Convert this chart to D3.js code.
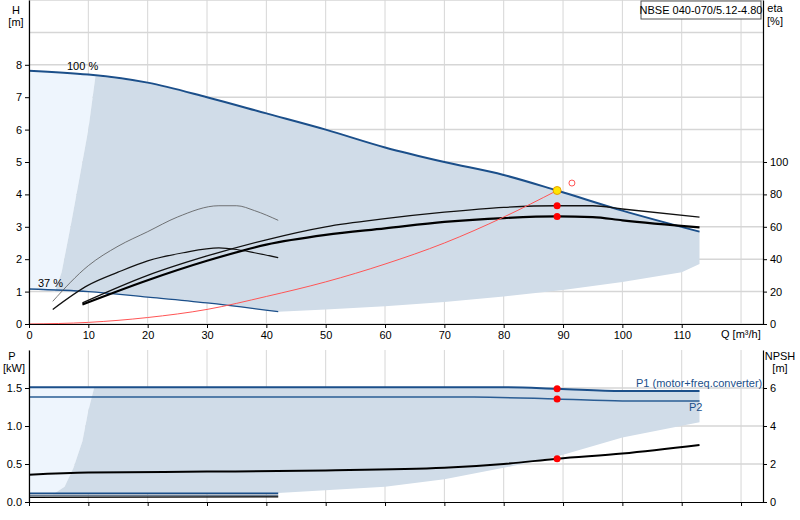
<!DOCTYPE html><html><head><meta charset="utf-8"><script src="https://cdn.jsdelivr.net/npm/d3@7"></script>
<style>body{margin:0;background:#fff}text{font-family:Arial,"Liberation Sans",sans-serif;font-size:11px}</style></head><body><svg id="c" width="800" height="520"></svg><script>
const qTicks=[0,10,20,30,40,50,60,70,80,90,100,110];
const hTicks=[0,1,2,3,4,5,6,7,8];
const etaTicks=[0,20,40,60,80,100];
const pTicks=[0,0.5,1.0,1.5];
const npshTicks=[0,2,4,6];
const h100=[[0,7.82],[10,7.7],[20,7.45],[30,7.0],[40,6.5],[50,6.0],[60,5.45],[70,5.0],[80,4.6],[89,4.12],[100,3.5],[113,2.85]];
const h37=[[0,1.08],[10,1.0],[20,0.83],[30,0.65],[42,0.38]];
const hLower=[[42,0.38],[50,0.45],[60,0.55],[70,0.68],[80,0.85],[90,1.05],[100,1.3],[110,1.6],[113,1.85]];
const hLeft=[[11.2,7.65],[10,6.0],[8.5,4.5],[7,3.0],[5.5,1.6],[4.4,1.0]];
const eta1=[[4,14],[10,36],[15,48],[20,57],[25,66],[32,73],[35,73],[38,70],[42,64]];
const eta2=[[4,9],[10,24],[15,32],[20,39],[26,44],[32,47],[35,46],[38,44],[42,41]];
const eta3=[[9,13],[20,30],[30,42],[40,52],[50,60],[60,65],[70,69],[80,72],[89,73],[95,73],[100,71],[113,66]];
const eta4=[[9,12],[20,27],[30,39],[40,49],[50,55],[60,59],[70,63],[80,65.4],[89,66.4],[95,66],[100,64],[113,59.6]];
const sys=[[0,0],[10,0.05],[20,0.2],[30,0.45],[40,0.85],[50,1.3],[60,1.85],[70,2.5],[80,3.3],[89,4.12]];
const p1=[[0,1.51],[40,1.51],[80,1.51],[89,1.49],[100,1.46],[113,1.46]];
const p2=[[0,1.38],[40,1.38],[75,1.38],[89,1.355],[100,1.33],[113,1.33]];
const npsh=[[0,1.44],[10,1.55],[30,1.6],[50,1.66],[70,1.8],[80,2.0],[89,2.28],[100,2.55],[113,3.0]];
const pLow1=[[0,0.115],[42,0.115]], pLow2=[[0,0.085],[42,0.085]], npshLow=[[0,0.24],[42,0.27]];
const pLower=[[113,1.05],[100,0.85],[89,0.6],[80,0.45],[70,0.3],[60,0.2],[42,0.12]];
const pLeft=[[11,1.51],[10,1.2],[9,0.8],[7.5,0.45],[6,0.2],[4,0.1]];
const duty=89;
const svg=d3.select("#c");
const x=d3.scaleLinear().domain([0,123.7]).range([29,763]);
const yH=d3.scaleLinear().domain([0,10]).range([324,0]);
const yE=d3.scaleLinear().domain([0,200]).range([324,0]);
const yP=d3.scaleLinear().domain([0,2]).range([502,350]);
const yN=d3.scaleLinear().domain([0,8]).range([502,350]);
const grid="#d6d6d6";
qTicks.concat([120]).forEach(q=>{svg.append("line").attr("x1",x(q)).attr("x2",x(q)).attr("y1",0).attr("y2",324).attr("stroke",grid);
 svg.append("line").attr("x1",x(q)).attr("x2",x(q)).attr("y1",350).attr("y2",502).attr("stroke",grid);});
d3.range(0,11).forEach(h=>svg.append("line").attr("x1",29).attr("x2",763).attr("y1",yH(h)).attr("y2",yH(h)).attr("stroke",grid).attr("stroke-width",1.5));
[0.5,1,1.5].forEach(p=>svg.append("line").attr("x1",29).attr("x2",763).attr("y1",yP(p)).attr("y2",yP(p)).attr("stroke",grid).attr("stroke-width",1.5));
const L=(ys)=>d3.line().x(d=>x(d[0])).y(d=>ys(d[1])).curve(d3.curveMonotoneX);
const Lp=(ys)=>d3.line().x(d=>x(d[0])).y(d=>ys(d[1]));
svg.append("path").attr("d",Lp(yH)([[0,7.82],[11.2,7.65],...hLeft.slice(1),[4.4,1.0],[0,1.08]])).attr("fill","#eef5fd");
const upper=h100.filter(d=>d[0]>11.2);
const poly=[[11.2,7.65],...upper,...hLower.slice().reverse(),...h37.filter(d=>d[0]>4.4).reverse(),...hLeft.slice().reverse()];
svg.append("path").attr("d",Lp(yH)(poly)).attr("fill","#d0dce8");
svg.append("path").attr("d",Lp(yP)([[0,1.51],[11,1.51],...pLeft.slice(1),[0,0.1]])).attr("fill","#eef5fd");
svg.append("path").attr("d",Lp(yP)([[11,1.51],...p1.filter(d=>d[0]>11),...pLower,[4,0.1],...pLeft.slice().reverse()])).attr("fill","#d0dce8");
svg.append("path").attr("d",L(yH)(h100)).attr("fill","none").attr("stroke","#1b4f8a").attr("stroke-width",2);
svg.append("path").attr("d",L(yH)(h37)).attr("fill","none").attr("stroke","#1b4f8a").attr("stroke-width",1.3);
svg.append("path").attr("d",L(yE)(eta1)).attr("fill","none").attr("stroke","#555").attr("stroke-width",0.8);
svg.append("path").attr("d",L(yE)(eta2)).attr("fill","none").attr("stroke","#111").attr("stroke-width",1.2);
svg.append("path").attr("d",L(yE)(eta3)).attr("fill","none").attr("stroke","#111").attr("stroke-width",1.3);
svg.append("path").attr("d",L(yE)(eta4)).attr("fill","none").attr("stroke","#000").attr("stroke-width",2.2);
svg.append("path").attr("d",L(yH)(sys)).attr("fill","none").attr("stroke","#f55").attr("stroke-width",1);
svg.append("path").attr("d",L(yP)(p1)).attr("fill","none").attr("stroke","#1b4f8a").attr("stroke-width",2);
svg.append("path").attr("d",L(yP)(p2)).attr("fill","none").attr("stroke","#2a5d94").attr("stroke-width",1.5);
svg.append("path").attr("d",L(yN)(npsh)).attr("fill","none").attr("stroke","#000").attr("stroke-width",2);
svg.append("path").attr("d",Lp(yP)(pLow2)).attr("fill","none").attr("stroke","#6a7d92").attr("stroke-width",2);
svg.append("path").attr("d",Lp(yP)(pLow1)).attr("fill","none").attr("stroke","#1b4f8a").attr("stroke-width",1.5);
svg.append("path").attr("d",Lp(yN)(npshLow)).attr("fill","none").attr("stroke","#000").attr("stroke-width",1.3);
svg.append("circle").attr("cx",x(91.5)).attr("cy",yH(4.35)).attr("r",3).attr("fill","none").attr("stroke","#f55");
[[yE,73],[yE,66.4]].forEach(([s,v])=>svg.append("circle").attr("cx",x(duty)).attr("cy",s(v)).attr("r",3.5).attr("fill","red"));
svg.append("circle").attr("cx",x(duty)).attr("cy",yH(4.12)).attr("r",4).attr("fill","#ffe500").attr("stroke","#e8a000");
[[yP,1.49],[yP,1.355],[yN,2.28]].forEach(([s,v])=>svg.append("circle").attr("cx",x(duty)).attr("cy",s(v)).attr("r",3.5).attr("fill","red"));
const ax=(g,a)=>{g.call(a);g.select(".domain").attr("stroke","#000");g.selectAll("text").attr("font-size",11).attr("fill","#000");};
svg.append("g").attr("transform","translate(29,0)").call(g=>ax(g,d3.axisLeft(yH).tickValues(hTicks).tickSize(4).tickSizeOuter(0)));
svg.append("g").attr("transform","translate(763,0)").call(g=>ax(g,d3.axisRight(yE).tickValues(etaTicks).tickSize(4).tickSizeOuter(0)));
svg.append("g").attr("transform","translate(0,324)").call(g=>ax(g,d3.axisBottom(x).tickValues(qTicks).tickSize(4).tickSizeOuter(0)));
svg.append("g").attr("transform","translate(29,0)").call(g=>ax(g,d3.axisLeft(yP).tickValues(pTicks).tickFormat(d3.format(".1f")).tickSize(4).tickSizeOuter(0)));
svg.append("g").attr("transform","translate(763,0)").call(g=>ax(g,d3.axisRight(yN).tickValues(npshTicks).tickSize(4).tickSizeOuter(0)));
svg.append("g").attr("transform","translate(0,502)").call(g=>ax(g,d3.axisBottom(x).tickValues(qTicks.concat([120])).tickFormat("").tickSize(4).tickSizeOuter(0)));
svg.selectAll(".domain").attr("stroke-width",1.2);
const t=(s,xx,yy,o={})=>svg.append("text").attr("x",xx).attr("y",yy).text(s).attr("fill",o.c||"#000").attr("text-anchor",o.a||"start");
t("H",16,14,{a:"middle"});t("[m]",16,26,{a:"middle"});
t("eta",775,12,{a:"middle"});t("[%]",775,25,{a:"middle"});
t("P",12,360,{a:"middle"});t("[kW]",14,372,{a:"middle"});
t("NPSH",780,360,{a:"middle"});t("[m]",780,372,{a:"middle"});
t("Q [m³/h]",721,338);
t("100 %",67,70);t("37 %",38,287);
t("P1 (motor+freq.converter)",636,387,{c:"#1b4f8a"});t("P2",689,411,{c:"#1b4f8a"});
svg.append("rect").attr("x",641).attr("y",1).attr("width",120).attr("height",18).attr("fill","#fff").attr("stroke","#555");
t("NBSE 040-070/5.12-4.80",701,14,{a:"middle"});
</script></body></html>
